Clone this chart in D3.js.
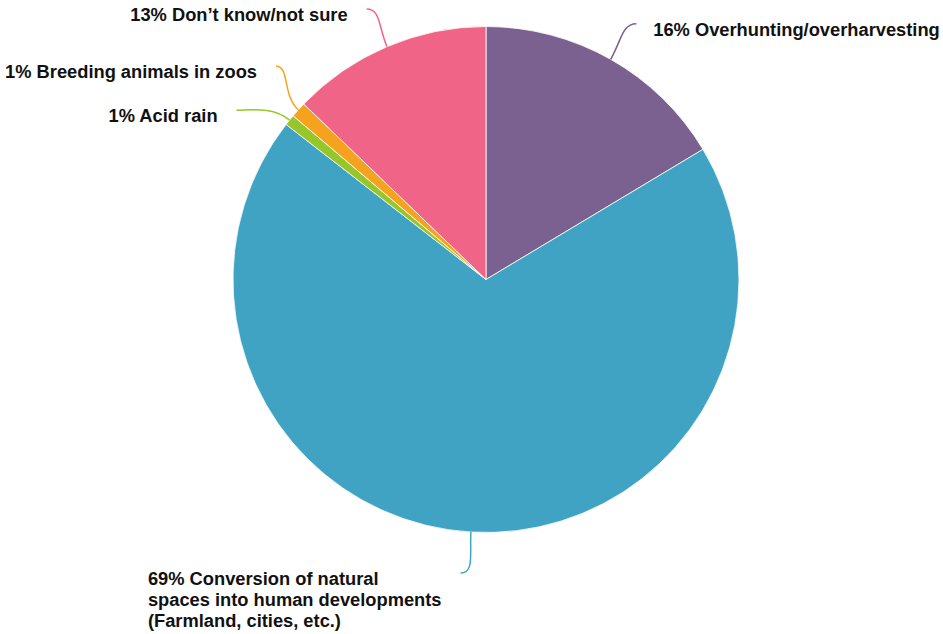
<!DOCTYPE html>
<html><head><meta charset="utf-8">
<script src="https://cdn.jsdelivr.net/npm/d3@7"></script>
<style>
html,body{margin:0;padding:0;background:#fff;}
text{font-family:"Liberation Sans",Arial,Helvetica,sans-serif;font-weight:bold;font-size:18.3px;fill:#111;}
</style></head>
<body><svg id="c" width="943" height="634"></svg>
<script>
const categories = ["Overhunting/overharvesting", "Conversion of natural spaces into human developments (Farmland, cities, etc.)", "Acid rain", "Breeding animals in zoos", "Don’t know/not sure"];
const values = [16.4, 69.1, 0.7, 1.0, 12.8];
const percentLabels = ["16%", "69%", "1%", "1%", "13%"];
const labelRows = [
  ["16% Overhunting/overharvesting"],
  ["69% Conversion of natural", "spaces into human developments", "(Farmland, cities, etc.)"],
  ["1% Acid rain"],
  ["1% Breeding animals in zoos"],
  ["13% Don’t know/not sure"]
];
const colors = ["#7b618f", "#40a3c3", "#96c62a", "#f5a31f", "#f06487"];

const svg = d3.select("#c");
const cx = 486, cy = 279.5, r = 253, Rx = 305, Ry = 294;
const g = svg.append("g").attr("transform", `translate(${cx},${cy})`);

const pie = d3.pie().sort(null).value(d => d)(values);
const arc = d3.arc().innerRadius(0).outerRadius(r);

g.selectAll("path.slice").data(pie).join("path")
  .attr("class", "slice")
  .attr("d", arc)
  .attr("fill", (d, i) => colors[i])
  .attr("stroke", "#fff").attr("stroke-width", 0.8);

// label layout
const labels = pie.map((d, i) => {
  const a = (d.startAngle + d.endAngle) / 2;
  return {i, a, side: Math.sin(a) >= 0 ? 1 : -1,
    p0: [r * Math.sin(a), -r * Math.cos(a)],
    y: -Ry * Math.cos(a)};
});
const gap = 44;
[1, -1].forEach(side => {
  const L = labels.filter(l => l.side === side).sort((a, b) => a.y - b.y);
  for (let it = 0; it < 200; it++) {
    let moved = false;
    for (let k = 0; k < L.length - 1; k++) {
      const d = L[k + 1].y - L[k].y;
      if (d < gap) { const s = (gap - d) / 2; L[k].y -= s; L[k + 1].y += s; moved = true; }
    }
    if (!moved) break;
  }
});
labels.forEach(l => {
  const t = Math.max(-1, Math.min(1, l.y / Ry));
  l.x = l.side * Rx * Math.sqrt(1 - t * t);
  if (Math.abs(t) > 0.97) l.x = Rx * Math.sin(l.a) * 1.4;
});

labels.forEach(l => {
  const p1 = [(r + 22) * Math.sin(l.a), -(r + 22) * Math.cos(l.a)];
  const p2 = [l.x - l.side * 14, l.y];
  const path = d3.path();
  path.moveTo(l.p0[0], l.p0[1]);
  path.bezierCurveTo(p1[0], p1[1], p2[0], p2[1], l.x, l.y);
  g.append("path").attr("d", path.toString())
    .attr("fill", "none").attr("stroke", colors[l.i]).attr("stroke-width", 1.5);

  const t = g.append("text");
  const rows = labelRows[l.i];
  rows.forEach((row, k) => {
    t.append("tspan").attr("y", l.y + 12 + k * 21).text(row);
  });
  const widths = t.selectAll("tspan").nodes().map(n => n.getComputedTextLength());
  const maxW = d3.max(widths);
  if (rows.length > 1) {
    const x0 = l.side > 0 ? l.x + 17 : l.x - 19 - maxW;
    t.selectAll("tspan").attr("x", x0);
  } else {
    t.selectAll("tspan").attr("x", l.side > 0 ? l.x + 17 : l.x - 19)
      .attr("text-anchor", l.side > 0 ? "start" : "end");
  }
});
</script></body></html>
